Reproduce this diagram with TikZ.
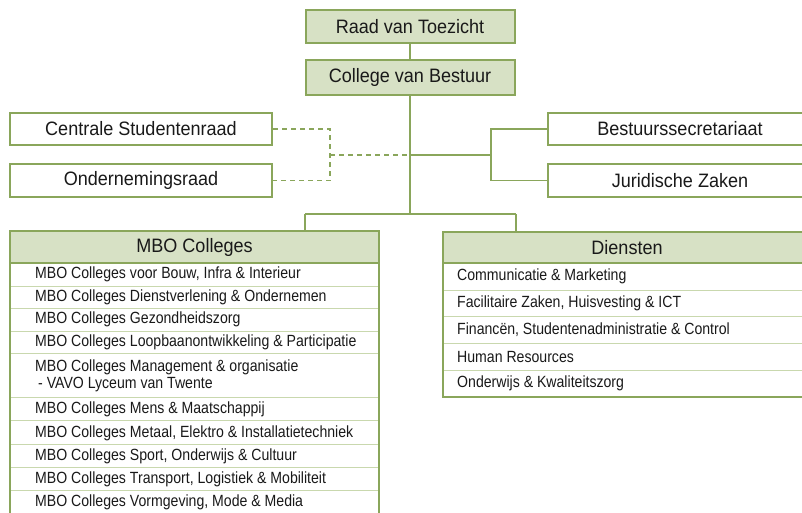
\documentclass[tikz,border=0pt]{standalone}
\usepackage{fontspec}
\setmainfont{Liberation Sans}
\newfontfamily\bigfont{Liberation Sans}[FakeStretch=0.93]
\newfontfamily\smallfont{Liberation Sans}[FakeStretch=0.87]
\definecolor{bdr}{HTML}{8AA65B}
\definecolor{hdr}{HTML}{D7E1C5}
\definecolor{sepc}{HTML}{C9D8AE}
\tikzset{
  boxbase/.style={draw=bdr, line width=2pt, inner sep=0pt, font=\bigfont\fontsize{19.4}{22}\selectfont, text=black!90},
  topbox/.style={boxbase, fill=hdr, minimum width=209pt, minimum height=34pt},
  sidebox/.style={boxbase, fill=white, minimum height=32pt},
  headbox/.style={boxbase, fill=hdr, minimum height=32pt},
  rowtext/.style={anchor=west, inner sep=0pt, font=\smallfont\fontsize{16.2}{17}\selectfont, text=black!90, align=left},
  conn/.style={draw=bdr, line width=1.8pt},
  dashconn/.style={draw=bdr, line width=1.6pt, dash pattern=on 5pt off 4pt},
  frame/.style={draw=bdr, line width=2pt},
  rowsep/.style={draw=sepc, line width=1pt}
}
\begin{document}
\begin{tikzpicture}[x=1pt,y=-1pt]
\useasboundingbox (0,0) rectangle (802,512);
% top boxes
\node[topbox, minimum height=33pt] (raad) at (410,26.5) {Raad van Toezicht};
\node[topbox, minimum height=35pt] (college) at (410,77.5) {College van Bestuur};
% side boxes
\node[sidebox, minimum width=262pt] (csr) at (141,129) {Centrale Studentenraad};
\node[sidebox, minimum width=262pt, minimum height=33pt] (or) at (141,180.5) {Ondernemingsraad};
\node[sidebox, minimum width=264pt] (bs) at (680,129) {Bestuurssecretariaat};
\node[sidebox, minimum width=264pt, minimum height=33pt] (jz) at (680,180.5) {Juridische Zaken};
% MBO Colleges block
\draw[rowsep] (10,286) -- (379,286);
\draw[rowsep] (10,308) -- (379,308);
\draw[rowsep] (10,331) -- (379,331);
\draw[rowsep] (10,353) -- (379,353);
\draw[rowsep] (10,397) -- (379,397);
\draw[rowsep] (10,420) -- (379,420);
\draw[rowsep] (10,444) -- (379,444);
\draw[rowsep] (10,467) -- (379,467);
\draw[rowsep] (10,490) -- (379,490);
\draw[frame] (10,231) rectangle (379,516);
\node[headbox, minimum width=369pt] (mbo) at (194.5,247) {MBO Colleges};
\node[rowtext] (m1) at (35,274.5) {MBO Colleges voor Bouw, Infra \& Interieur};
\node[rowtext] (m2) at (35,297) {MBO Colleges Dienstverlening \& Ondernemen};
\node[rowtext] (m3) at (35,319.5) {MBO Colleges Gezondheidszorg};
\node[rowtext] (m4) at (35,342) {MBO Colleges Loopbaanontwikkeling \& Participatie};
\node[rowtext] (m5) at (35,375.5) {MBO Colleges Management \& organisatie\\\hspace*{3pt}- VAVO Lyceum van Twente};
\node[rowtext] (m6) at (35,409.5) {MBO Colleges Mens \& Maatschappij};
\node[rowtext] (m7) at (35,433) {MBO Colleges Metaal, Elektro \& Installatietechniek};
\node[rowtext] (m8) at (35,456.5) {MBO Colleges Sport, Onderwijs \& Cultuur};
\node[rowtext] (m9) at (35,479.5) {MBO Colleges Transport, Logistiek \& Mobiliteit};
\node[rowtext] (m10) at (35,502.5) {MBO Colleges Vormgeving, Mode \& Media};
% Diensten block
\draw[rowsep] (443,290) -- (811,290);
\draw[rowsep] (443,316) -- (811,316);
\draw[rowsep] (443,343) -- (811,343);
\draw[rowsep] (443,370) -- (811,370);
\draw[frame] (443,232) rectangle (811,397);
\node[headbox, minimum width=368pt, minimum height=31pt] (dienst) at (627,247.5) {Diensten};
\node[rowtext] (d1) at (457,276.5) {Communicatie \& Marketing};
\node[rowtext] (d2) at (457,303) {Facilitaire Zaken, Huisvesting \& ICT};
\node[rowtext] (d3) at (457,329.5) {Financën, Studentenadministratie \& Control};
\node[rowtext] (d4) at (457,356.5) {Human Resources};
\node[rowtext] (d5) at (457,383.5) {Onderwijs \& Kwaliteitszorg};
% connectors
\coordinate (j1) at (410,155);
\coordinate (j2) at (410,214);
\coordinate (rb) at (491,155);
\coordinate (lb) at (330,155);
\coordinate (ml) at (305,214);
\coordinate (dr) at (516,214);
\draw[conn] (raad.south) -- (college.north);
\draw[conn] (college.south) -- (j2);
\draw[conn] (j1) -- (rb);
\draw[conn] (bs.west) -| (rb) |- (jz.west);
\draw[dashconn] (csr.east) -| (lb) |- (or.east);
\draw[dashconn] (lb) -- (j1);
\draw[conn] (ml) -- (dr);
\draw[conn] (ml) -- (ml |- mbo.north);
\draw[conn] (dr) -- (dr |- dienst.north);
\end{tikzpicture}
\end{document}
